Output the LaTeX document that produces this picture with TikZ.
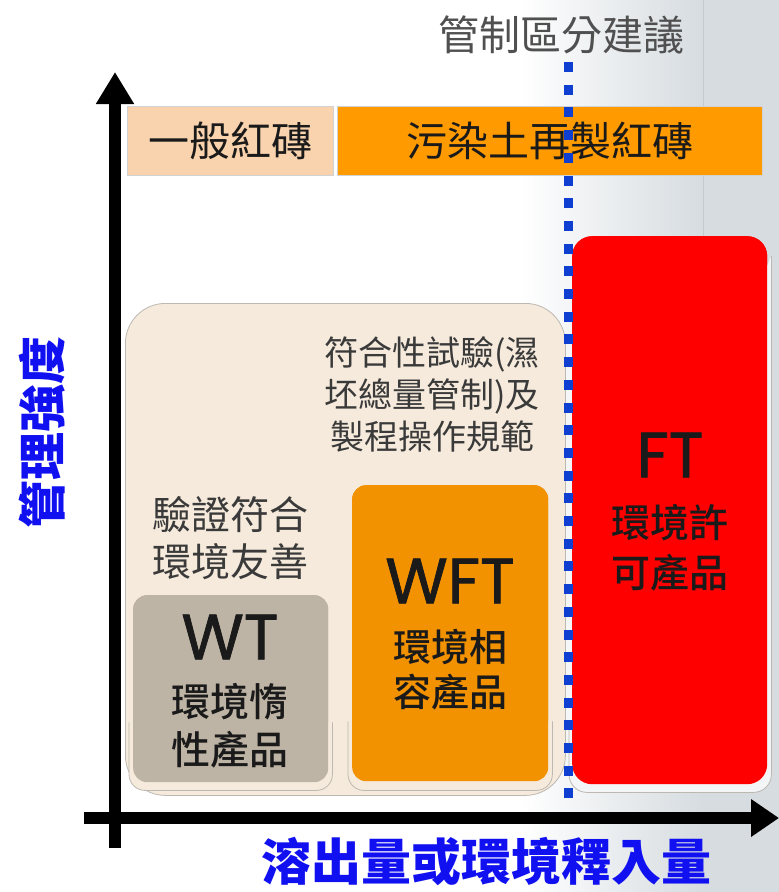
\documentclass[tikz,border=0pt]{standalone}
\usepackage{fontspec}
\setmainfont{Noto Sans CJK TC}
\newfontfamily\cjkmed{Noto Sans CJK TC Medium}
\newfontfamily\latf[FakeBold=1.2]{Poppins}
\usetikzlibrary{arrows.meta,calc}
\definecolor{bgr}{HTML}{D6DCE0}
\definecolor{bgline}{HTML}{C3CBD0}
\definecolor{peach}{HTML}{F9D3AD}
\definecolor{orangetop}{HTML}{FF9A00}
\definecolor{beige}{HTML}{F5EADB}
\definecolor{wtfill}{HTML}{BEB4A5}
\definecolor{wftfill}{HTML}{F39200}
\definecolor{ftfill}{HTML}{FF0000}
\definecolor{dotblue}{HTML}{0F3FD0}
\definecolor{labblue}{HTML}{1010F0}
\definecolor{titlegray}{HTML}{505050}
\definecolor{txtdark}{HTML}{1A1A1A}
\definecolor{txtmid}{HTML}{3A3A3A}
\definecolor{traygray}{HTML}{BDB8B2}
\tikzset{
  topbox/.style={draw=gray!35, line width=0.8, inner sep=0, anchor=north west, text=txtdark},
  tray/.style={draw=traygray, line width=0.8, rounded corners=16},
  prodbox/.style={rounded corners=14, inner sep=0, anchor=north west},
  bigcode/.style={text=txtdark, inner sep=0, font=\latf\fontsize{64}{64}\selectfont},
  prodtext/.style={text=txtdark, inner sep=0, align=center},
  axis/.style={line width=12, draw=black},
}
\begin{document}
\begin{tikzpicture}[x=1pt,y=-1pt]
\useasboundingbox (0,0) rectangle (779,892);
% background
\shade[left color=white, right color=bgr] (520,0) rectangle (703,892);
\fill[bgr] (703,0) rectangle (779,892);
\draw[bgline, line width=1] (703,0) -- (703,300);
% top boxes
\node[topbox, fill=peach, minimum width=206, minimum height=69,
      font=\fontsize{41}{41}\selectfont] (gen) at (127,106) {一般紅磚};
\node[topbox, fill=orangetop, minimum width=425, minimum height=69,
      font=\fontsize{41}{41}\selectfont] (pol) at (337,106) {污染土再製紅磚};
% title
\node[text=titlegray, inner sep=0, font=\fontsize{41}{41}\selectfont] (title) at (561,35) {管制區分建議};
% big beige zone
\node[draw=traygray, line width=0.8, fill=beige, rounded corners=40, inner sep=0, anchor=north west,
      minimum width=440, minimum height=492] (zone) at (125,303) {};
\node[text=txtmid, inner sep=0, align=center, font=\fontsize{34}{42}\selectfont] (zonetext) at (432,394)
  {符合性試驗(濕\\坯總量管制)及\\製程操作規範};
\node[text=txtmid, inner sep=0, align=center, font=\fontsize{39}{47}\selectfont] (verif) at (230,538)
  {驗證符合\\環境友善};
% product boxes (first pass, gives the names)
\node[prodbox, fill=wtfill, minimum width=195, minimum height=187] (wt) at (133,595) {};
\node[prodbox, fill=wftfill, minimum width=196, minimum height=296] (wft) at (352,485) {};
\node[prodbox, fill=ftfill, rounded corners=20, minimum width=195, minimum height=548] (ft) at (572,236) {};
% trays: U-shaped rims below each box
\fill[beige, draw=traygray, line width=0.8, rounded corners=16]
  ($(wt.south west)+(-4,-60)$) -- ($(wt.south west)+(-4,8)$) -- ($(wt.south east)+(4,8)$) -- ($(wt.south east)+(4,-60)$);
\fill[beige, draw=traygray, line width=0.8, rounded corners=16]
  ($(wft.south west)+(-4,-60)$) -- ($(wft.south west)+(-4,9)$) -- ($(wft.south east)+(4,9)$) -- ($(wft.south east)+(4,-60)$);
\fill[white!70!bgr, draw=traygray, line width=0.8, rounded corners=18]
  ($(ft.south west)+(-3,-60)$) -- ($(ft.south west)+(-3,8)$) -- ($(ft.south east)+(4,8)$) -- ($(ft.north east)+(4,20)$);
% product boxes redrawn on top of the rims
\node[prodbox, fill=wtfill, minimum width=195, minimum height=187] at (133,595) {};
\node[prodbox, fill=wftfill, minimum width=196, minimum height=296] at (352,485) {};
\node[prodbox, fill=ftfill, rounded corners=20, minimum width=195, minimum height=548] at (572,236) {};
% product texts
\node[bigcode] (wtcode) at (230,637) {WT};
\node[prodtext, font=\cjkmed\fontsize{39}{48}\selectfont] (wtlab) at (230,726) {環境惰\\性產品};
\node[bigcode] (wftcode) at (450,581) {WFT};
\node[prodtext, font=\cjkmed\fontsize{38}{45}\selectfont] (wftlab) at (450,670) {環境相\\容產品};
\node[bigcode] (ftcode) at (670,455) {FT};
\node[prodtext, font=\cjkmed\fontsize{39}{50}\selectfont] (ftlab) at (670,548) {環境許\\可產品};
% dotted divider
\coordinate (divtop) at (568,62);
\coordinate (divbot) at (568,806);
\draw[dotblue, line width=9, dash pattern=on 10 off 12.7] (divtop) -- (divbot);
% axes
\coordinate (yb) at (115,848);
\coordinate (yt) at (115,72);
\coordinate (xl) at (84,818);
\coordinate (xr) at (779,818);
\draw[axis, -{Triangle[width=36,length=32]}] (yb) -- (yt);
\draw[axis, -{Triangle[width=36,length=28]}] (xl) -- (xr);
% axis labels
\node[text=labblue, inner sep=0, font=\bfseries\fontsize{50}{50}\selectfont] (xlab) at (486,862) {溶出量或環境釋入量};
\node[text=labblue, inner sep=0, rotate=90, font=\bfseries\fontsize{48}{48}\selectfont] (ylab) at (42,432) {管理強度};
\end{tikzpicture}
\end{document}
